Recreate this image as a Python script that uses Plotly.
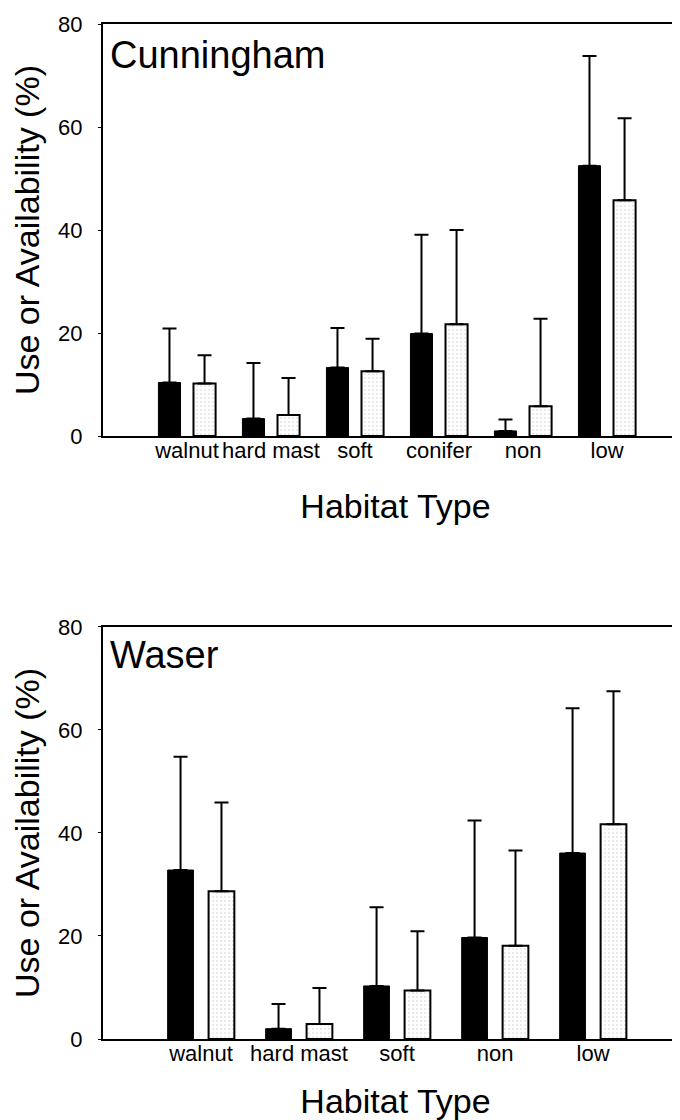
import plotly.graph_objects as go

# Cunningham (top panel)
cats_c = ["walnut", "hard mast", "soft", "conifer", "non", "low"]
use_c = [10.4, 3.4, 13.3, 19.9, 1.0, 52.5]
use_c_err = [10.5, 10.8, 7.7, 19.2, 2.2, 21.3]
avail_c = [10.2, 4.1, 12.6, 21.7, 5.8, 45.8]
avail_c_err = [5.5, 7.2, 6.3, 18.3, 17.0, 15.9]

# Waser (bottom panel)
cats_w = ["walnut", "hard mast", "soft", "non", "low"]
use_w = [32.8, 2.0, 10.3, 19.7, 36.1]
use_w_err = [22.0, 4.8, 15.3, 22.7, 28.1]
avail_w = [28.7, 2.9, 9.4, 18.1, 41.7]
avail_w_err = [17.2, 7.0, 11.5, 18.5, 25.8]

y_ticks = [0, 20, 40, 60, 80]

FONT = "Liberation Sans, Arial, sans-serif"

fig = go.Figure()


def add_panel(cats, use, use_err, avail, avail_err, xa, ya):
    fig.add_trace(go.Bar(
        x=cats, y=use, name="Use", xaxis=xa, yaxis=ya,
        marker=dict(color="black", line=dict(color="black", width=1)),
        error_y=dict(type="data", array=use_err, arrayminus=[0] * len(use),
                     symmetric=False, color="black", thickness=2, width=7),
        showlegend=False,
    ))
    fig.add_trace(go.Bar(
        x=cats, y=avail, name="Availability", xaxis=xa, yaxis=ya,
        marker=dict(color="white", line=dict(color="black", width=2),
                    pattern=dict(shape=".", fgcolor="#9a9a9a", bgcolor="white",
                                 size=4, solidity=0.12)),
        error_y=dict(type="data", array=avail_err, arrayminus=[0] * len(avail),
                     symmetric=False, color="black", thickness=2, width=7),
        showlegend=False,
    ))


add_panel(cats_c, use_c, use_c_err, avail_c, avail_c_err, "x", "y")
add_panel(cats_w, use_w, use_w_err, avail_w, avail_w_err, "x2", "y2")

axis_common = dict(
    showline=True, linecolor="black", linewidth=2, showgrid=False,
    zeroline=False, tickfont=dict(family=FONT, size=22, color="black"),
)

xcommon = dict(axis_common, type="category", ticks="", mirror=True,
               tickangle=0, ticklabelstandoff=-6)
ycommon = dict(axis_common, range=[0, 80], tickvals=y_ticks, ticks="outside",
               ticklen=3, tickwidth=1, tickcolor="black", mirror=False,
               ticklabelstandoff=11,
               title=dict(text="Use or Availability (%)",
                          font=dict(family=FONT, size=34, color="black"),
                          standoff=16))

fig.update_layout(
    width=680, height=1120,
    margin=dict(l=95, r=0, t=16, b=89),
    paper_bgcolor="white", plot_bgcolor="white",
    barmode="group", bargap=0.165, bargroupgap=0.37,
    font=dict(family=FONT, color="black"),
    xaxis=dict(xcommon, anchor="y", range=[-1, 5.964],
               title=dict(text="Habitat Type", standoff=32,
                          font=dict(family=FONT, size=34, color="black"))),
    yaxis=dict(ycommon, anchor="x", domain=[0.594, 1.0]),
    xaxis2=dict(xcommon, anchor="y2", range=[-1, 4.969],
                title=dict(text="Habitat Type", standoff=24,
                           font=dict(family=FONT, size=34, color="black"))),
    yaxis2=dict(ycommon, anchor="x2", domain=[0.0, 0.406]),
)

fig.add_annotation(text="Cunningham", xref="paper", yref="y", x=0.008, y=74,
                   xanchor="left", yanchor="middle", showarrow=False,
                   font=dict(family=FONT, size=38, color="black"))
fig.add_annotation(text="Waser", xref="paper", yref="y2", x=0.008, y=74.5,
                   xanchor="left", yanchor="middle", showarrow=False,
                   font=dict(family=FONT, size=38, color="black"))

fig.write_html("out.html")
